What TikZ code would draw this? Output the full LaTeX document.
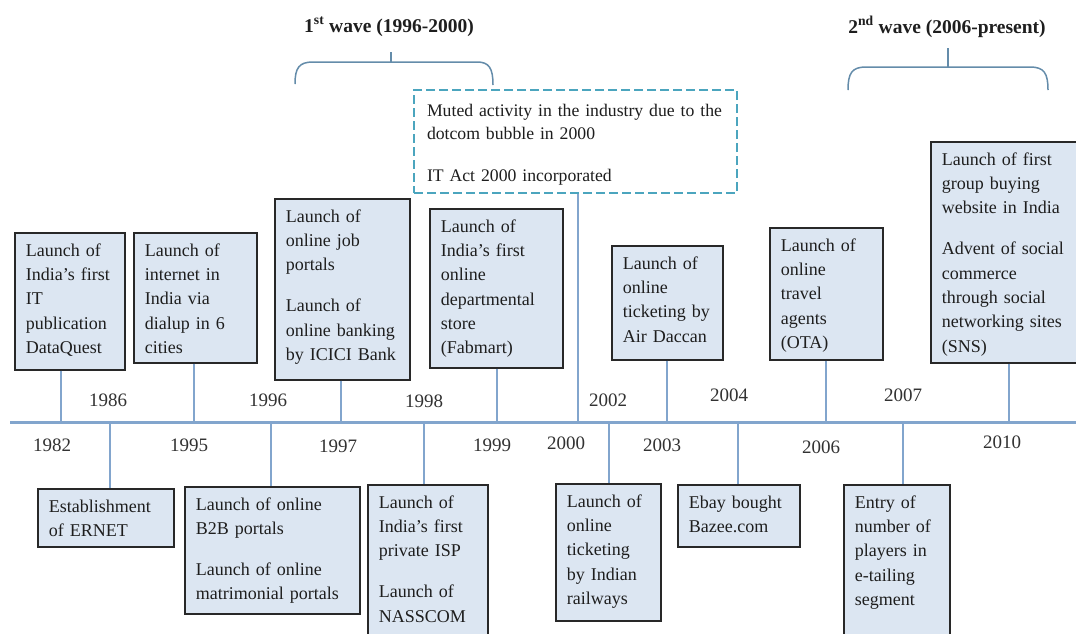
\documentclass[tikz,border=0pt]{standalone}
\usepackage{fontspec}
\setmainfont{Liberation Serif}
\definecolor{boxfill}{RGB}{220,230,242}
\definecolor{boxline}{RGB}{40,40,40}
\definecolor{textcol}{RGB}{30,30,30}
\definecolor{yearcol}{RGB}{50,50,50}
\definecolor{linecol}{RGB}{130,165,205}
\definecolor{dashcol}{RGB}{75,165,190}
\definecolor{bracecol}{RGB}{100,140,170}
\newcommand{\boxfont}{\fontsize{18}{24.3}\selectfont}
\newcommand{\notefont}{\fontsize{17.7}{23}\selectfont}
\newcommand{\yearfont}{\fontsize{19}{19}\selectfont}
\newcommand{\titlefont}{\fontsize{19.5}{20}\selectfont\bfseries}
\newcommand{\pgap}{\\[16.7pt]}
\tikzset{
  evbox/.style={draw=boxline, fill=boxfill, line width=1.6pt, anchor=north west,
    inner xsep=11pt, inner ysep=0pt, text height=23.5pt, align=left,
    font=\boxfont, text=textcol},
  notebox/.style={draw=dashcol, line width=2pt, dash pattern=on 9pt off 4pt,
    anchor=north west, inner xsep=13pt, inner ysep=0pt, text height=26pt,
    align=left, font=\notefont, text=textcol},
  yearlbl/.style={font=\yearfont, text=yearcol, inner sep=0pt, anchor=center},
  wavetitle/.style={font=\titlefont, text=textcol, inner sep=0pt, anchor=base},
  conn/.style={draw=linecol, line width=1.8pt},
  axis/.style={draw=linecol, line width=2.4pt},
  bracepath/.style={draw=bracecol, line width=1.5pt}
}
\begin{document}
\begin{tikzpicture}[x=1pt,y=-1pt]
\useasboundingbox (0,0) rectangle (1076,633);
\clip (0,0) rectangle (1076,633);
\fill[white] (0,0) rectangle (1076,633);

% wave titles and braces
\node[wavetitle] (w1) at (389,32) {1\textsuperscript{st} wave (1996-2000)};
\node[wavetitle] (w2) at (947,33) {2\textsuperscript{nd} wave (2006-present)};
\draw[bracepath] (295,84) .. controls (295,68) and (299,62) .. (313,62) -- (477,62)
  .. controls (489,62) and (493,68) .. (493,85);
\draw[bracepath] (391,62) -- (391,52);
\draw[bracepath] (848,90) .. controls (848,73) and (852,67) .. (866,67) -- (1030,67)
  .. controls (1044,67) and (1048,73) .. (1048,90);
\draw[bracepath] (948,67) -- (948,48);

% timeline
\coordinate (tl0) at (10,422.5);
\coordinate (tl1) at (1076,422.5);
\draw[axis] (tl0) -- (tl1);

% points on the timeline
\coordinate (tB1) at (61,422.5);
\coordinate (tB2) at (194,422.5);
\coordinate (tB3) at (341,422.5);
\coordinate (tB4) at (497,422.5);
\coordinate (tD)  at (578,422.5);
\coordinate (tB5) at (667,422.5);
\coordinate (tB6) at (826,422.5);
\coordinate (tB7) at (1009,422.5);
\coordinate (tC1) at (110,422.5);
\coordinate (tC2) at (271,422.5);
\coordinate (tC3) at (424,422.5);
\coordinate (tC4) at (609,422.5);
\coordinate (tC5) at (738,422.5);
\coordinate (tC6) at (903,422.5);

% note box
\node[notebox, text width=297pt, text depth=77pt] (nd) at (413,89)
  {Muted activity in the industry due to the\\dotcom bubble in 2000\\[19pt]IT Act 2000 incorporated};

% upper boxes
\node[evbox, text width=88pt, text depth=113.5pt] (b1) at (14,232)
  {Launch of\\India’s first\\IT\\publication\\DataQuest};
\node[evbox, text width=101pt, text depth=106.5pt] (b2) at (133,232)
  {Launch of\\internet in\\India via\\dialup in 6\\cities};
\node[evbox, text width=113pt, text depth=157.5pt] (b3) at (274,198)
  {Launch of\\online job\\portals\pgap Launch of\\online banking\\by ICICI Bank};
\node[evbox, text width=111pt, text depth=135.5pt] (b4) at (429,208)
  {Launch of\\India’s first\\online\\departmental\\store\\(Fabmart)};
\node[evbox, text width=89pt, text depth=90.5pt] (b5) at (611,245)
  {Launch of\\online\\ticketing by\\Air Daccan};
\node[evbox, text width=91pt, text depth=108.5pt] (b6) at (769,227)
  {Launch of\\online\\travel\\agents\\(OTA)};
\node[evbox, text width=138pt, text depth=197.5pt] (b7) at (930,141)
  {Launch of first\\group buying\\website in India\pgap Advent of social\\commerce\\through social\\networking sites\\(SNS)};

% lower boxes
\node[evbox, text width=114pt, text depth=34.5pt] (c1) at (37,488)
  {Establishment\\of ERNET};
\node[evbox, text width=153pt, text depth=103.5pt] (c2) at (184,486)
  {Launch of online\\B2B portals\pgap Launch of online\\matrimonial portals};
\node[evbox, text width=98pt, text depth=146.5pt] (c3) at (367,484)
  {Launch of\\India’s first\\private ISP\pgap Launch of\\NASSCOM};
\node[evbox, text width=83pt, text depth=113.5pt] (c4) at (555,483)
  {Launch of\\online\\ticketing\\by Indian\\railways};
\node[evbox, text width=100pt, text depth=38.5pt] (c5) at (677,484)
  {Ebay bought\\Bazee.com};
\node[evbox, text width=84pt, text depth=146.5pt] (c6) at (843,484)
  {Entry of\\number of\\players in\\e-tailing\\segment};

% connectors
\draw[conn] (tB1 |- b1.south) -- (tB1);
\draw[conn] (tB2 |- b2.south) -- (tB2);
\draw[conn] (tB3 |- b3.south) -- (tB3);
\draw[conn] (tB4 |- b4.south) -- (tB4);
\draw[conn] (tD |- nd.south) -- (tD);
\draw[conn] (tB5 |- b5.south) -- (tB5);
\draw[conn] (tB6 |- b6.south) -- (tB6);
\draw[conn] (tB7 |- b7.south) -- (tB7);
\draw[conn] (tC1) -- (tC1 |- c1.north);
\draw[conn] (tC2) -- (tC2 |- c2.north);
\draw[conn] (tC3) -- (tC3 |- c3.north);
\draw[conn] (tC4) -- (tC4 |- c4.north);
\draw[conn] (tC5) -- (tC5 |- c5.north);
\draw[conn] (tC6) -- (tC6 |- c6.north);

% year labels
\node[yearlbl] (y1986) at (108,400) {1986};
\node[yearlbl] (y1996) at (268,400) {1996};
\node[yearlbl] (y1998) at (424,401) {1998};
\node[yearlbl] (y2002) at (608,400) {2002};
\node[yearlbl] (y2004) at (729,395) {2004};
\node[yearlbl] (y2007) at (903,395) {2007};
\node[yearlbl] (y1982) at (52,445) {1982};
\node[yearlbl] (y1995) at (189,445) {1995};
\node[yearlbl] (y1997) at (338,446) {1997};
\node[yearlbl] (y1999) at (492,445) {1999};
\node[yearlbl] (y2000) at (566,443) {2000};
\node[yearlbl] (y2003) at (662,445) {2003};
\node[yearlbl] (y2006) at (821,447) {2006};
\node[yearlbl] (y2010) at (1002,442) {2010};
\end{tikzpicture}
\end{document}
